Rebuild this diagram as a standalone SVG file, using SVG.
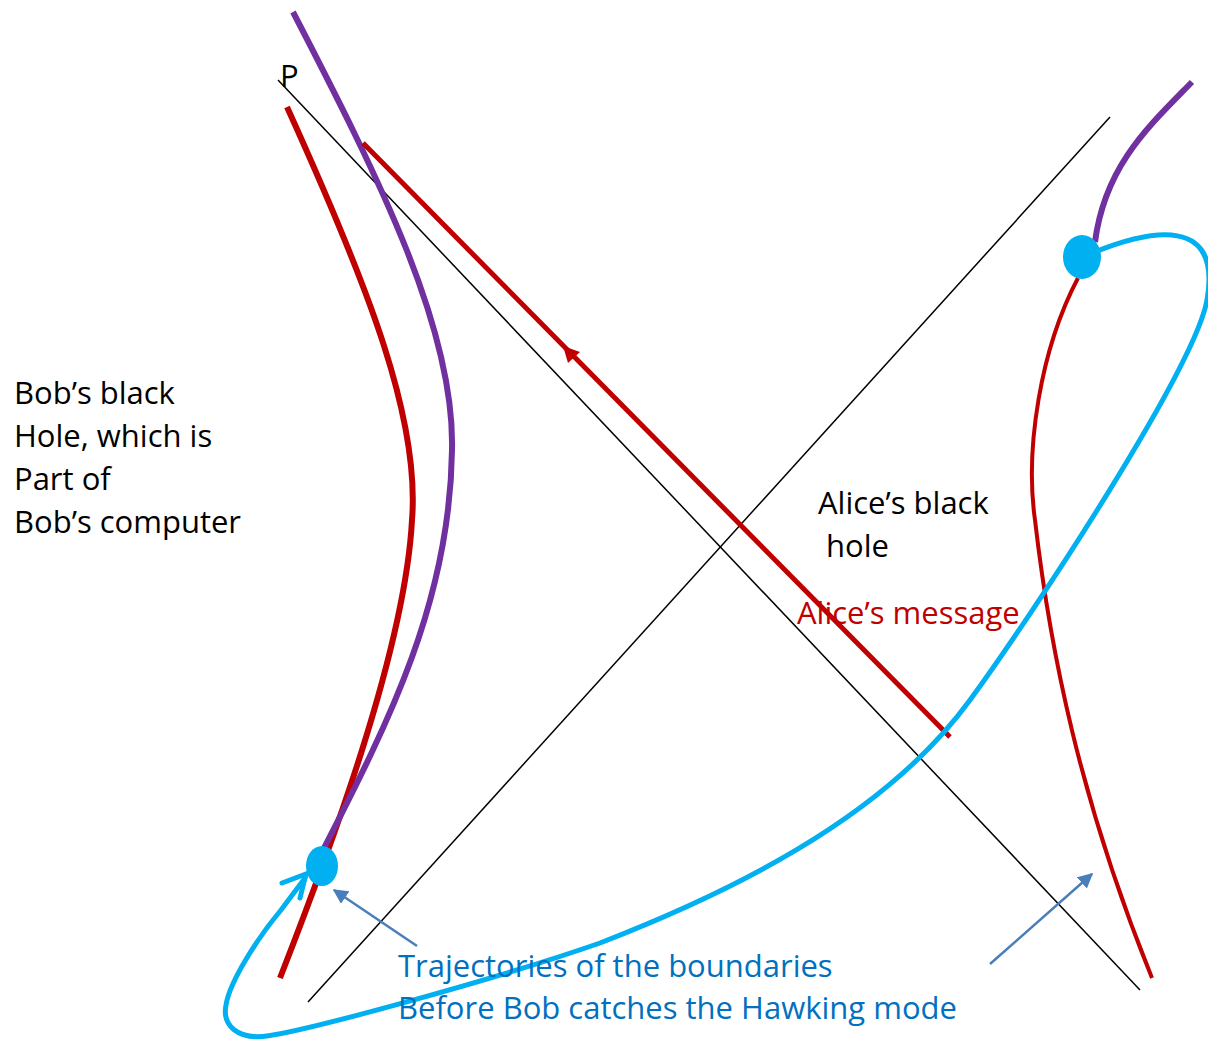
<svg xmlns="http://www.w3.org/2000/svg" width="1208" height="1040" viewBox="0 0 1208 1040">
<defs>
<style>
.t{font-family:"Open Sans","Liberation Sans",sans-serif;font-size:31px;fill:#000}
.axis{stroke:#000;stroke-width:1.5;fill:none}
.red{stroke:#c00000;stroke-width:6;fill:none}
.pur{stroke:#7030a0;stroke-width:6;fill:none}
.cy{stroke:#00b0f0;stroke-width:5;fill:none;stroke-linecap:round}
.sb{stroke:#4a7ebb;stroke-width:2.5;fill:none}
</style>
<marker id="ah" viewBox="0 0 10 10" refX="9" refY="5" markerWidth="6" markerHeight="6" orient="auto" markerUnits="strokeWidth">
<path d="M0,0 L10,5 L0,10 z" fill="#4a7ebb"/>
</marker>
</defs>
<rect width="1208" height="1040" fill="#fff"/>
<g id="connectors">
<line class="axis" x1="278" y1="80" x2="1140" y2="990"/>
<line class="axis" x1="308" y1="1002" x2="1110" y2="117"/>
<path class="red" d="M287,107 C370,290 420,420 412,520 C405,650 330,850 280,978"/>
<path class="pur" d="M293,12 C380,180 455,330 452,450 C450,600 390,720 323,850"/>
<line class="red" x1="363" y1="143" x2="950" y2="737" style="stroke-width:5"/>
<path d="M563,346 L580,352 L568,363 z" fill="#c00000"/>
<path class="pur" d="M1192,82 C1150,125 1105,165 1095,242"/>
<path class="red" style="stroke-width:4" d="M1078,278 C1040,350 1025,450 1035,520 C1050,650 1080,800 1152,978"/>
<path class="cy" d="M1095,252 C1150,230 1222,215 1207,300 C1195,368 1035,611 970,700 C881.5,821.5 721,896 600,943 C500,978 310,1030 267,1036 C237,1040 222,1025 226,1005 C230,980 260,935 281,910 L305,878"/>
<path class="cy" d="M282,883 L306,874 L300,898"/>
<line class="sb" x1="417" y1="946" x2="334" y2="890" marker-end="url(#ah)"/>
<line class="sb" x1="990" y1="964" x2="1092" y2="874" marker-end="url(#ah)"/>
</g>
<g id="blob-left"><ellipse cx="322" cy="866" rx="16" ry="20" fill="#00b0f0"/></g>
<g id="blob-right"><ellipse cx="1082" cy="257" rx="19" ry="22" fill="#00b0f0"/></g>
<g id="labels">
<text class="t" x="280" y="87">P</text>
<text class="t" x="14" y="404">Bob’s black</text>
<text class="t" x="14" y="447">Hole, which is</text>
<text class="t" x="14" y="490">Part of</text>
<text class="t" x="14" y="533">Bob’s computer</text>
<text class="t" x="818" y="514">Alice’s black</text>
<text class="t" x="826" y="557">hole</text>
<text class="t" x="797" y="624" style="fill:#c00000">Alice’s message</text>
<text class="t" x="398" y="977" style="fill:#0070c0">Trajectories of the boundaries</text>
<text class="t" x="398" y="1019" style="fill:#0070c0">Before Bob catches the Hawking mode</text>
</g>
</svg>
